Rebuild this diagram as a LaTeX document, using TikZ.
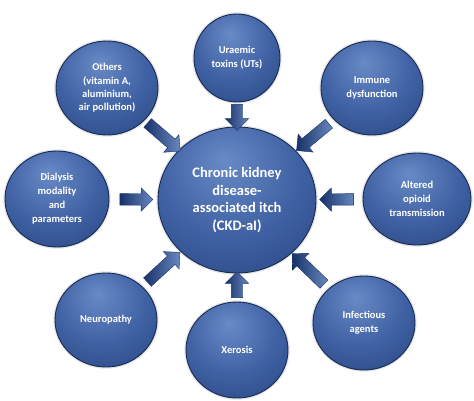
\documentclass[tikz,border=0pt]{standalone}
\usepackage{fontspec}
\setmainfont{Carlito}
\usetikzlibrary{shapes.geometric,shapes.arrows}
\definecolor{bubblelight}{RGB}{104,138,198}
\definecolor{bubblemid}{RGB}{64,98,164}
\definecolor{bubbledark}{RGB}{30,56,112}
\definecolor{bubbleedge}{RGB}{22,42,86}
\definecolor{arrowdark}{RGB}{24,50,104}
\definecolor{arrowlight}{RGB}{104,136,192}
\pgfdeclareradialshading{bubbleglow}{\pgfpoint{-4bp}{14bp}}{%
  color(0bp)=(bubblelight); color(22bp)=(bubblemid);
  color(50bp)=(bubbledark); color(72bp)=(bubbledark)}
\tikzset{
  bubble/.style={
    ellipse,
    shading=bubbleglow,
    draw=bubbleedge,
    line width=0.9pt,
    preaction={draw=black!10, line width=3.5pt},
    text=white,
    align=center,
    inner sep=0pt,
    minimum width=102pt,
    minimum height=94pt,
    font=\bfseries\fontsize{10.5}{14}\selectfont
  },
  bubble-big/.style={
    bubble,
    minimum width=158pt,
    minimum height=146pt,
    font=\bfseries\fontsize{14.5}{17.7}\selectfont
  },
  block-arrow/.style={
    single arrow,
    sloped,
    allow upside down,
    inner xsep=0pt,
    inner ysep=5.5pt,
    single arrow head extend=6pt,
    single arrow head indent=0pt,
    left color=arrowdark,
    right color=arrowlight,
    draw=arrowdark,
    line width=0.4pt
  }
}

\begin{document}
\begin{tikzpicture}[x=1pt,y=-1pt]
  \useasboundingbox (0,0) rectangle (474,401);
  % centre and the eight causes
  \node[bubble-big] (ckd) at (237,200) {Chronic kidney\\disease-\\associated itch\\(CKD-aI)};
  \node[bubble, minimum width=86pt, minimum height=88pt] (uraemic) at (237,58) {Uraemic\\toxins (UTs)};
  \node[bubble] (immune) at (372,88) {Immune\\dysfunction};
  \node[bubble, minimum width=108pt, minimum height=92pt] (opioid) at (417,199) {Altered\\opioid\\transmission};
  \node[bubble] (infect) at (364,323) {Infectious\\agents};
  \node[bubble, minimum height=96pt] (xerosis) at (237,350) {Xerosis};
  \node[bubble] (neuro) at (106,320) {Neuropathy};
  \node[bubble, minimum width=104pt, minimum height=96pt] (dialysis) at (57,199) {Dialysis\\modality\\and\\parameters};
  \node[bubble, font=\bfseries\fontsize{10.5}{13.3}\selectfont] (others) at (107,88) {Others\\(vitamin A,\\aluminium,\\air pollution)};
  % block arrows towards the centre
  \foreach \src/\len in {uraemic/26, immune/42, opioid/34, infect/44, xerosis/26, neuro/44, dialysis/33, others/43} {
    \path (\src) -- node[block-arrow, minimum height=\len pt] (arr-\src) {} (ckd);
  }
\end{tikzpicture}
\end{document}
